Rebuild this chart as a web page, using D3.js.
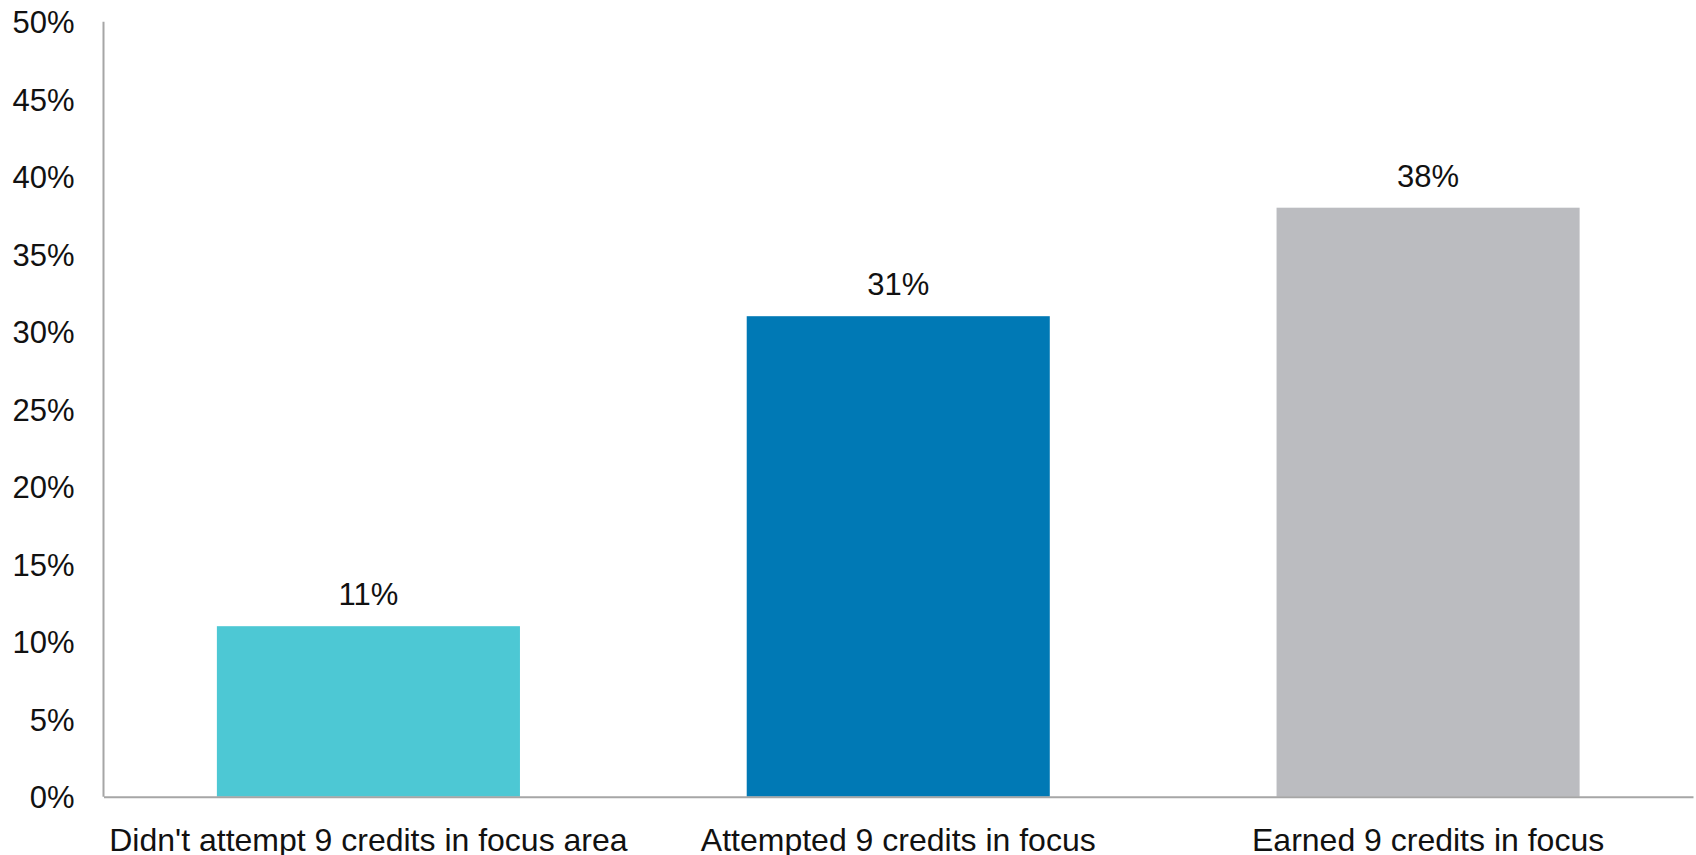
<!DOCTYPE html>
<html>
<head>
<meta charset="utf-8">
<script src="https://cdn.jsdelivr.net/npm/d3@7"></script>
<style>
  html, body { margin: 0; padding: 0; background: #fff; }
  svg { display: block; }
  text { font-family: "Liberation Sans", Arial, sans-serif; fill: #111; }
</style>
</head>
<body>
<svg id="chart" width="1696" height="855"></svg>
<script>
const categories = ["Didn't attempt 9 credits in focus area", "Attempted 9 credits in focus", "Earned 9 credits in focus"];
const values = [11, 31, 38];
const barColors = ["#4dc8d4", "#0079b5", "#bbbcc0"];
const yTicks = [0, 5, 10, 15, 20, 25, 30, 35, 40, 45, 50];

(function () {
const svg = d3.select("#chart");
const mLeft = 103.5, mRight = 1693, mTop = 21.7, mBottom = 796.7;

const x = d3.scaleBand().domain(categories).range([mLeft, mRight]).paddingInner(0.428).paddingOuter(0.214);
const y = d3.scaleLinear().domain([0, 50]).range([mBottom, mTop]);

// y axis tick labels
const yAxis = d3.axisLeft(y).tickValues(yTicks).tickFormat(d => d + "%").tickSize(0).tickPadding(29);
const gy = svg.append("g").attr("transform", `translate(${mLeft},0)`).call(yAxis);
gy.select(".domain").remove();
gy.selectAll("text").attr("font-size", 31).attr("font-family", "Liberation Sans, Arial, sans-serif").attr("fill", "#111").attr("dy", "0.35em");

// bars
svg.append("g").selectAll("rect").data(values).join("rect")
  .attr("x", (d, i) => x(categories[i]))
  .attr("width", x.bandwidth())
  .attr("y", d => y(d))
  .attr("height", d => y(0) - y(d))
  .attr("fill", (d, i) => barColors[i]);

// value labels
svg.append("g").selectAll("text").data(values).join("text")
  .attr("x", (d, i) => x(categories[i]) + x.bandwidth() / 2)
  .attr("y", d => y(d) - 21)
  .attr("text-anchor", "middle")
  .attr("font-size", 31)
  .text(d => d + "%");

// axis lines
svg.append("line").attr("x1", mLeft).attr("x2", mLeft).attr("y1", mTop).attr("y2", mBottom)
  .attr("stroke", "#a6a6a6").attr("stroke-width", 2);
const xAxis = d3.axisBottom(x).tickSize(0).tickPadding(0);
const gx = svg.append("g").attr("transform", `translate(0,${mBottom})`).call(xAxis);
gx.select(".domain").attr("stroke", "#a6a6a6").attr("stroke-width", 2);
gx.selectAll("text").attr("font-size", 32).attr("font-family", "Liberation Sans, Arial, sans-serif")
  .attr("fill", "#111").attr("dy", null).attr("y", 54);
})();
</script>
</body>
</html>
